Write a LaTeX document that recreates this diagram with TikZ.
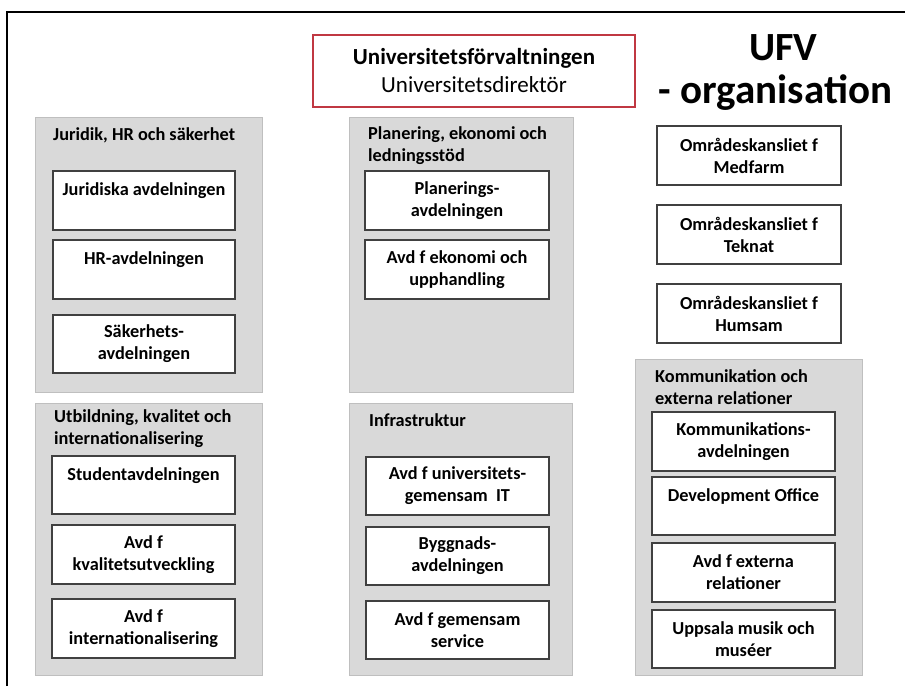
\documentclass[tikz,border=0pt]{standalone}
\usepackage{fontspec}
\setmainfont{Carlito}
\definecolor{panelgray}{RGB}{217,217,217}
\definecolor{panelline}{RGB}{191,191,191}
\definecolor{boxline}{RGB}{64,64,64}
\definecolor{uured}{RGB}{192,56,66}
\begin{document}
\begin{tikzpicture}[x=1pt,y=-1pt,
  panel/.style={draw=panelline, fill=panelgray, line width=1pt, anchor=north west, inner sep=0},
  wbox/.style={draw=boxline, fill=white, line width=1.3pt, minimum width=183, minimum height=59, inner sep=0, align=center, font=\bfseries\fontsize{18.3}{22}\selectfont},
  ptitle/.style={anchor=west, align=left, inner sep=0, font=\bfseries\fontsize{18.3}{22}\selectfont}
]
\useasboundingbox (0,0) rectangle (905,686);
% outer frame
\coordinate (fl) at (7,686);
\coordinate (fc) at (7,12);
\coordinate (fr) at (905,12);
\draw[line width=2pt] (fl) -- (fc) -- (fr);

% head box
\node[draw=uured, line width=2pt, minimum width=322, minimum height=72, align=center, inner sep=0,
      font=\fontsize{23}{28}\selectfont] (head) at (474,71)
  {\textbf{Universitetsförvaltningen}\\Universitetsdirektör};
\node[font=\bfseries\fontsize{40}{44}\selectfont, inner sep=0] (ufv) at (783.5,48) {UFV};
\node[font=\bfseries\fontsize{41}{44}\selectfont, inner sep=0] (org) at (775.5,93) {- organisation};

% panels
\node[panel, minimum width=227, minimum height=275] (p1) at (35,117) {};
\node[panel, minimum width=224, minimum height=275] (p2) at (349,117) {};
\node[panel, minimum width=227, minimum height=316] (p3) at (635,359) {};
\node[panel, minimum width=227, minimum height=272] (p4) at (35,403) {};
\node[panel, minimum width=223, minimum height=272] (p5) at (349,403) {};

% panel titles
\node[ptitle] (t1) at (53,135) {Juridik, HR och säkerhet};
\node[ptitle] (t2) at (368,145.5) {Planering, ekonomi och\\ledningsstöd};
\node[ptitle] (t3) at (655,387.5) {Kommunikation och\\externa relationer};
\node[ptitle] (t4) at (54,429) {Utbildning, kvalitet och\\internationalisering};
\node[ptitle] (t5) at (369,420) {Infrastruktur};

% panel 1
\node[wbox, minimum width=182] (jur) at (144,200.5) {Juridiska avdelningen\\\mbox{}};
\node[wbox, minimum width=182] (hr) at (144,269.5) {HR-avdelningen\\\mbox{}};
\node[wbox, minimum width=182, minimum height=58] (sak) at (144,344) {Säkerhets-\\avdelningen};

% panel 2
\node[wbox, minimum width=184] (plan) at (457,200.5) {Planerings-\\avdelningen};
\node[wbox, minimum width=184] (ekon) at (457,269.5) {Avd f ekonomi och\\upphandling};

% right column
\node[wbox, minimum width=184] (med) at (749,155.5) {Områdeskansliet f\\Medfarm};
\node[wbox, minimum width=184] (tek) at (749,234.5) {Områdeskansliet f\\Teknat};
\node[wbox, minimum width=184] (hum) at (749,313.5) {Områdeskansliet f\\Humsam};

% panel 3
\node[wbox] (komm) at (743.5,441.5) {Kommunikations-\\avdelningen};
\node[wbox, minimum height=58] (dev) at (743.5,506) {Development Office\\\mbox{}};
\node[wbox] (ext) at (743.5,572.5) {Avd f externa\\relationer};
\node[wbox, minimum height=58] (ums) at (743.5,639) {Uppsala musik och\\muséer};

% panel 4
\node[wbox, minimum height=58] (stud) at (143.5,485) {Studentavdelningen\\\mbox{}};
\node[wbox] (kval) at (143.5,554.5) {Avd f\\kvalitetsutveckling};
\node[wbox] (intl) at (143.5,628.5) {Avd f\\internationalisering};

% panel 5
\node[wbox, minimum height=58] (it) at (457.5,486) {Avd f universitets-\\gemensam~ IT};
\node[wbox, minimum height=58] (bygg) at (457.5,556) {Byggnads-\\avdelningen};
\node[wbox, minimum height=58] (serv) at (457.5,630) {Avd f gemensam\\service};
\end{tikzpicture}
\end{document}
